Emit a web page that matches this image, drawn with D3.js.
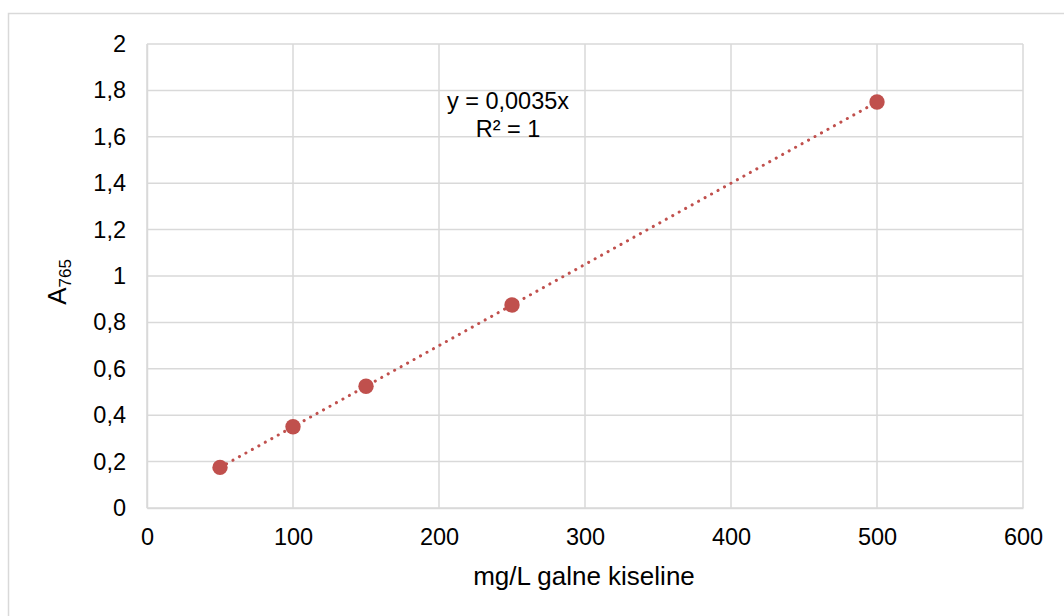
<!DOCTYPE html>
<html lang="en">
<head>
<meta charset="UTF-8">
<title>A765 vs mg/L galne kiseline</title>
<script src="https://d3js.org/d3.v7.min.js"></script>
<style>
  body { margin: 0; background: #fff; font-family: "Liberation Sans", Arial, sans-serif; }
</style>
</head>
<body>
<div id="chart"></div>
<script>
// data
var concentrations = [50, 100, 150, 250, 500];
var absorbances = [0.175, 0.35, 0.525, 0.875, 1.75];
var xTicks = [0, 100, 200, 300, 400, 500, 600];
var yTicks = [0, 0.2, 0.4, 0.6, 0.8, 1, 1.2, 1.4, 1.6, 1.8, 2];
var slope = 0.0035;
var trendRange = [50, 500];
var equationLines = ["y = 0,0035x", "R² = 1"];

var W = 1064, H = 616;
var margin = {top: 44, right: 41, bottom: 108, left: 147};
var width = W - margin.left - margin.right,
    height = H - margin.top - margin.bottom;
var red = "#c0504d", grid = "#d9d9d9";
var fmt = function(v) { return String(v).replace(".", ","); };

var svg = d3.select("#chart").append("svg")
  .attr("width", W).attr("height", H);

// outer chart frame
svg.append("rect")
  .attr("x", 8.5).attr("y", 13.5)
  .attr("width", W).attr("height", H)
  .attr("fill", "none").attr("stroke", grid).attr("stroke-width", 1.5);

var g = svg.append("g")
  .attr("transform", "translate(" + margin.left + "," + margin.top + ")");

var x = d3.scaleLinear().domain([0, 600]).range([0, width]);
var y = d3.scaleLinear().domain([0, 2]).range([height, 0]);

// gridlines
g.selectAll(".hgrid").data(yTicks).enter().append("line")
  .attr("x1", 0).attr("x2", width)
  .attr("y1", function(d) { return y(d); }).attr("y2", function(d) { return y(d); })
  .attr("stroke", grid).attr("stroke-width", 1.5);
g.selectAll(".vgrid").data(xTicks).enter().append("line")
  .attr("y1", 0).attr("y2", height)
  .attr("x1", function(d) { return x(d); }).attr("x2", function(d) { return x(d); })
  .attr("stroke", grid).attr("stroke-width", 1.5);

// axes
var xAxis = g.append("g")
  .attr("transform", "translate(0," + height + ")")
  .call(d3.axisBottom(x).tickValues(xTicks).tickSize(0).tickPadding(20).tickFormat(fmt));
var yAxis = g.append("g")
  .call(d3.axisLeft(y).tickValues(yTicks).tickSize(0).tickPadding(21).tickFormat(fmt));
[xAxis, yAxis].forEach(function(a) {
  a.select(".domain").attr("stroke", grid).attr("stroke-width", 1.5);
  a.selectAll("text")
    .attr("fill", "#000")
    .style("font-family", "'Liberation Sans', Arial, sans-serif")
    .style("font-size", "23.5px");
});

// trendline
g.append("line")
  .attr("x1", x(trendRange[0])).attr("y1", y(slope * trendRange[0]))
  .attr("x2", x(trendRange[1])).attr("y2", y(slope * trendRange[1]))
  .attr("stroke", red).attr("stroke-width", 3)
  .attr("stroke-linecap", "round").attr("stroke-dasharray", "0.1 7.3");

// points
g.selectAll(".pt").data(concentrations).enter().append("circle")
  .attr("cx", function(d) { return x(d); })
  .attr("cy", function(d, i) { return y(absorbances[i]); })
  .attr("r", 7.7).attr("fill", red);

// equation
g.append("text")
  .attr("text-anchor", "middle")
  .style("font-size", "23.5px")
  .selectAll("tspan").data(equationLines).enter().append("tspan")
  .attr("x", 361)
  .attr("y", function(d, i) { return 65 + i * 28; })
  .text(function(d) { return d; });

// axis titles
svg.append("text")
  .attr("x", 584).attr("y", 585)
  .attr("text-anchor", "middle")
  .style("font-size", "26px")
  .text("mg/L galne kiseline");

var yt = svg.append("text")
  .attr("transform", "translate(66,282) rotate(-90)")
  .attr("text-anchor", "middle")
  .style("font-size", "26px");
yt.append("tspan").text("A");
yt.append("tspan").attr("dy", 5).style("font-size", "17px").text("765");
</script>
</body>
</html>
